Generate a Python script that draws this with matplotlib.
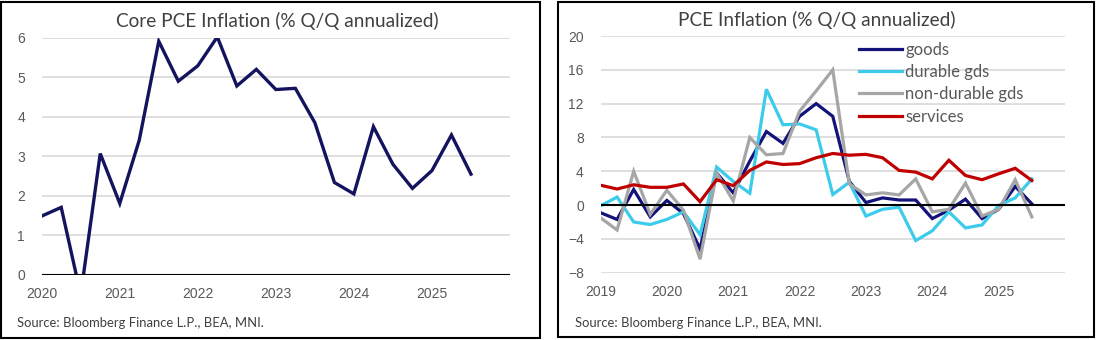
import numpy as np
import matplotlib.pyplot as plt
from matplotlib.patches import Rectangle

# Core PCE, % Q/Q annualized, quarterly from 2020
core_pce = [1.49, 1.71, -0.5, 3.07, 1.81, 3.41, 5.91, 4.90, 5.29, 6.02, 4.78, 5.20,
            4.69, 4.72, 3.85, 2.34, 2.05, 3.75, 2.80, 2.19, 2.64, 3.54, 2.55]
core_start = 2020.0

# PCE components, % Q/Q annualized, quarterly from 2019
goods = [-0.9, -1.7, 1.85, -1.4, 0.55, -1.0, -5.2, 3.8, 1.45, 5.2, 8.7, 7.3, 10.5, 12.0,
         10.5, 2.8, 0.3, 0.85, 0.6, 0.6, -1.6, -0.6, 0.7, -1.6, -0.5, 2.2, 0.15]
durable = [-0.1, 0.95, -2.0, -2.3, -1.7, -0.8, -3.5, 4.5, 2.8, 1.4, 13.7, 9.5, 9.6, 8.9,
           1.25, 2.7, -1.3, -0.5, -0.25, -4.2, -3.05, -0.8, -2.7, -2.35, -0.05, 0.85, 3.1]
nondurable = [-1.5, -2.95, 4.0, -1.1, 1.75, -0.6, -6.4, 3.8, 0.5, 8.0, 5.95, 6.1, 11.1, 13.5,
              16.0, 2.5, 1.2, 1.45, 1.2, 3.1, -0.8, -0.5, 2.6, -1.3, -0.5, 3.0, -1.4]
services = [2.35, 1.9, 2.4, 2.1, 2.1, 2.5, 0.4, 3.0, 2.3, 4.1, 5.1, 4.8, 4.9, 5.6,
            6.1, 5.9, 6.0, 5.6, 4.1, 3.9, 3.1, 5.3, 3.5, 3.0, 3.7, 4.35, 2.9]
comp_start = 2019.0

series_names = ["goods", "durable gds", "non-durable gds", "services"]
series_colors = ["#13137a", "#3ccbeb", "#a6a6a6", "#c00000"]

source_txt = "Source: Bloomberg Finance L.P., BEA, MNI."
TXT_FONT = "Lato"

plt.rcParams['font.family'] = 'Liberation Sans'

W, H = 1097, 340
fig = plt.figure(figsize=(W / 100, H / 100), dpi=100)


def px_box(x0, y0, x1, y1):
    # pixel box (top-left origin) -> figure fraction rect
    return [x0 / W, 1 - y1 / H, (x1 - x0) / W, (y1 - y0) / H]


def style(ax, ylim, yticks, xlim):
    ax.set_xlim(*xlim)
    ax.set_ylim(*ylim)
    ax.set_yticks(yticks)
    ax.set_xticks(range(int(xlim[0]), int(xlim[1])))
    ax.grid(axis='y', color='#d9d9d9', lw=1.2)
    ax.set_axisbelow(True)
    for s in ax.spines.values():
        s.set_visible(False)
    ax.tick_params(length=0, labelsize=10, labelcolor='#595959')
    ax.tick_params(axis='x', pad=9)
    ax.tick_params(axis='y', pad=12)
    ax.axhline(0, color='black', lw=1.5, zorder=5)
    ax.patch.set_alpha(0)


# panel frames
for x0, y0, x1, y1 in [(1, 2, 540, 338), (558, 2, 1094, 337)]:
    fig.add_artist(Rectangle((x0 / W, 1 - y1 / H), (x1 - x0) / W, (y1 - y0) / H,
                             transform=fig.transFigure, fill=False, ec='black', lw=1.5))

# left: core PCE
ax1 = fig.add_axes(px_box(41.7, 37.7, 510, 275))
x1 = core_start + np.arange(len(core_pce)) / 4
ax1.plot(x1, core_pce, color="#13135e", lw=2.4, solid_joinstyle='miter')
style(ax1, (0, 6), range(0, 7), (2020, 2026))
fig.text(277 / W, 1 - 21 / H, "Core PCE Inflation (% Q/Q annualized)", ha='center', va='center',
         fontsize=13.7, color='#404040', family=TXT_FONT)
fig.text(17 / W, 1 - 326.7 / H, source_txt, ha='left', va='baseline', fontsize=9.4,
         color='#404040', family=TXT_FONT)

# right: components
ax2 = fig.add_axes(px_box(600.5, 36, 1065, 272.7))
x2 = comp_start + np.arange(len(goods)) / 4
for vals, name, col in zip([goods, durable, nondurable, services], series_names, series_colors):
    ax2.plot(x2, vals, color=col, lw=2.3, label=name, solid_joinstyle='miter')
style(ax2, (-8, 20), range(-8, 21, 4), (2019, 2026))
fig.text(817 / W, 1 - 20 / H, "PCE Inflation (% Q/Q annualized)", ha='center', va='center',
         fontsize=13.7, color='#404040', family=TXT_FONT)
fig.text(575 / W, 1 - 326.7 / H, source_txt, ha='left', va='baseline', fontsize=9.4,
         color='#404040', family=TXT_FONT)

ax2.legend(loc='upper left', bbox_to_anchor=(859 / W, 1 - 41.5 / H), bbox_transform=fig.transFigure,
           frameon=False, handlelength=2.58, handletextpad=0.18, labelspacing=0.38,
           borderpad=0, borderaxespad=0, labelcolor='#595959',
           prop={'family': TXT_FONT, 'size': 12})

fig.savefig("out.png", dpi=100)
